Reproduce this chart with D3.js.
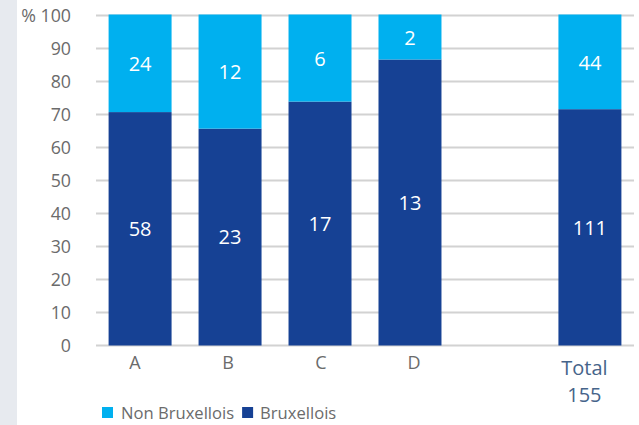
<!DOCTYPE html>
<html><head><meta charset="utf-8">
<script src="https://cdn.jsdelivr.net/npm/d3@7"></script>
<style>body{margin:0;background:#fff;}svg{display:block;font-family:"Open Sans","Noto Sans",sans-serif;}</style>
</head><body>
<svg id="c" width="639" height="425"></svg>
<script>
const categories = ["A","B","C","D","","Total"];
const bruxellois = [58,23,17,13,null,111];
const nonBruxellois = [24,12,6,2,null,44];
const yTicks = [0,10,20,30,40,50,60,70,80,90,100];
const totalLabel = "155";
const seriesNames = ["Non Bruxellois","Bruxellois"];
const colors = {light:"#00b0ef", dark:"#164194"};

const svg = d3.select("#c");
svg.append("rect").attr("x",0).attr("y",0).attr("width",17).attr("height",425).attr("fill","#e7eaef");

const x = d3.scaleBand().domain(categories).range([96,634]).paddingInner(0.3).paddingOuter(0.14);
const y = d3.scaleLinear().domain([0,100]).range([345.5,15.5]);
const xl = d3.scalePoint().domain(categories.slice(0,4)).range([135,414]);

// gridlines
svg.append("g").selectAll("line").data(yTicks).join("line")
  .attr("x1",96).attr("x2",634).attr("y1",d=>y(d)).attr("y2",d=>y(d))
  .attr("stroke","#d2d2d2").attr("stroke-width",2);

// y tick labels
svg.append("g").selectAll("text").data(yTicks).join("text")
  .attr("x",71).attr("y",d=>y(d)).attr("dy","0.36em").attr("text-anchor","end")
  .attr("fill","#6b6b6b").attr("font-size",17.8)
  .text(d=>d===100?"% 100":d);

const data = categories.map((c,i)=>({c, b:bruxellois[i], n:nonBruxellois[i]})).filter(d=>d.b!=null);
data.forEach(d=>{d.t=d.b+d.n; d.pb=d.b/d.t*100;});

const g = svg.append("g");
g.selectAll("rect.dark").data(data).join("rect").attr("class","dark")
  .attr("x",d=>x(d.c)).attr("width",x.bandwidth())
  .attr("y",d=>y(d.pb)).attr("height",d=>y(0)-y(d.pb)).attr("fill",colors.dark);
g.selectAll("rect.light").data(data).join("rect").attr("class","light")
  .attr("x",d=>x(d.c)).attr("width",x.bandwidth())
  .attr("y",y(100)-1).attr("height",d=>y(d.pb)-y(100)+1).attr("fill",colors.light);

g.selectAll("text.dl").data(data).join("text").attr("class","dl")
  .attr("x",d=>x(d.c)+x.bandwidth()/2).attr("y",d=>(y(d.pb)+y(0))/2).attr("dy","0.36em")
  .attr("text-anchor","middle").attr("fill","#fff").attr("font-size",20).text(d=>d.b);
g.selectAll("text.ll").data(data).join("text").attr("class","ll")
  .attr("x",d=>x(d.c)+x.bandwidth()/2).attr("y",d=>(y(d.pb)+y(100))/2).attr("dy","0.36em")
  .attr("text-anchor","middle").attr("fill","#fff").attr("font-size",20).text(d=>d.n);

// x labels
const lx = d => d.c==="Total" ? x(d.c)+x.bandwidth()/2-5.5 : xl(d.c);
svg.append("g").selectAll("text").data(data).join("text")
  .attr("y",d=>d.c==="Total"?375:369)
  .attr("text-anchor","middle")
  .attr("fill",d=>d.c==="Total"?"#46648a":"#6b6b6b")
  .attr("font-size",d=>d.c==="Total"?20:18)
  .each(function(d){
    const t=d3.select(this);
    t.append("tspan").attr("x",lx(d)).text(d.c);
    if(d.c==="Total") t.append("tspan").attr("x",lx(d)).attr("dy",26.5).text(totalLabel);
  });

// legend
const leg = svg.append("g");
leg.append("rect").attr("x",102).attr("y",407).attr("width",11).attr("height",11).attr("fill",colors.light);
const t1 = leg.append("text").attr("x",121).attr("y",418.5).attr("fill","#6b6b6b").attr("font-size",16.6).text(seriesNames[0]);
const w1 = t1.node().getComputedTextLength();
leg.append("rect").attr("x",121+w1+8).attr("y",407).attr("width",11).attr("height",11).attr("fill",colors.dark);
leg.append("text").attr("x",121+w1+26).attr("y",418.5).attr("fill","#6b6b6b").attr("font-size",16.6).text(seriesNames[1]);
</script>
</body></html>
